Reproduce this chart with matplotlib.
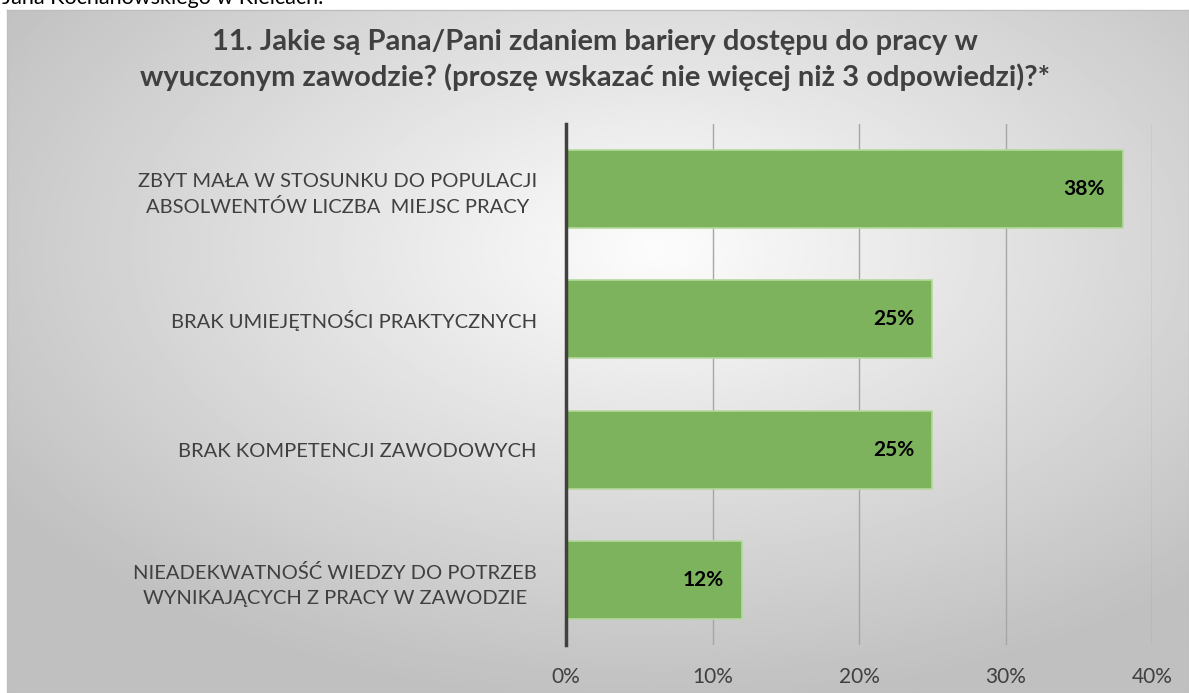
import numpy as np
import matplotlib.pyplot as plt

# Dane z wykresu
categories = [
    "ZBYT MAŁA W STOSUNKU DO POPULACJI\nABSOLWENTÓW LICZBA  MIEJSC PRACY",
    "BRAK UMIEJĘTNOŚCI PRAKTYCZNYCH",
    "BRAK KOMPETENCJI ZAWODOWYCH",
    "NIEADEKWATNOŚĆ WIEDZY DO POTRZEB\nWYNIKAJĄCYCH Z PRACY W ZAWODZIE",
]
values = [0.38, 0.25, 0.25, 0.12]
value_labels = ["38%", "25%", "25%", "12%"]
xticks = [0, 0.1, 0.2, 0.3, 0.4]
xtick_labels = ["0%", "10%", "20%", "30%", "40%"]

title = ("11. Jakie są Pana/Pani zdaniem bariery dostępu do pracy w\n"
         "wyuczonym zawodzie? (proszę wskazać nie więcej niż 3 odpowiedzi)?*")

plt.rcParams['font.family'] = ['Lato', 'DejaVu Sans']

W, H = 1189, 693
fig = plt.figure(figsize=(W / 100, H / 100), dpi=100)

# tlo wykresu - gradient radialny
bg = fig.add_axes([7 / W, 0, (W - 7) / W, (H - 10) / H])
yy, xx = np.mgrid[0:1:300j, 0:1:500j]
r = np.sqrt(((xx - 0.55) / 0.9) ** 2 + ((yy - 0.35) / 0.9) ** 2)
r = np.clip(r / 0.75, 0, 1)
shade = 0.99 - 0.24 * r
bg.imshow(shade, cmap='gray', vmin=0, vmax=1, aspect='auto', extent=[0, 1, 1, 0])
bg.set_xlim(0, 1)
bg.set_ylim(1, 0)
bg.set_xticks([])
bg.set_yticks([])
for s in bg.spines.values():
    s.set_color('#bfbfbf')
    s.set_linewidth(1)

# obciety tekst nad wykresem
fig.text(2 / W, 1 - 4 / H, "Jana Kochanowskiego w Kielcach.", fontsize=15.5,
         color='black', va='baseline', ha='left')

ax = fig.add_axes([566 / W, 1 - 645 / H, (1152 - 566) / W, 521 / H])
ax.patch.set_alpha(0)
y = np.arange(len(categories))
ax.barh(y, values, height=0.6, color='#7db35d', edgecolor='#b5d99c',
        linewidth=1.2, zorder=3)
ax.set_ylim(len(categories) - 0.5, -0.5)
ax.set_xlim(0, 0.4)

for yi, v, lab in zip(y, values, value_labels):
    ax.annotate(lab, (v, yi), xytext=(-13, 0), textcoords='offset points',
                ha='right', va='center', fontsize=15, fontweight='bold',
                color='black', zorder=4)

ax.set_xticks(xticks)
ax.set_xticklabels(xtick_labels, fontsize=15, color='#404040')
ax.tick_params(axis='x', length=0, pad=16)
ax.set_yticks(y)
ax.set_yticklabels(categories, fontsize=14.5, color='#404040',
                   multialignment='center', linespacing=1.55)
ax.tick_params(axis='y', length=0, pad=21)
ax.grid(axis='x', color='#a6a6a6', linewidth=1, zorder=0)
for s in ['top', 'right', 'bottom']:
    ax.spines[s].set_visible(False)
ax.spines['left'].set_color('#404040')
ax.spines['left'].set_linewidth(2.5)
ax.spines['left'].set_zorder(5)

fig.text(595 / W, 1 - 60 / H, title, fontsize=21, fontweight='bold',
         color='#404040', ha='center', va='center', linespacing=1.4)

fig.savefig('out.png', dpi=100)
